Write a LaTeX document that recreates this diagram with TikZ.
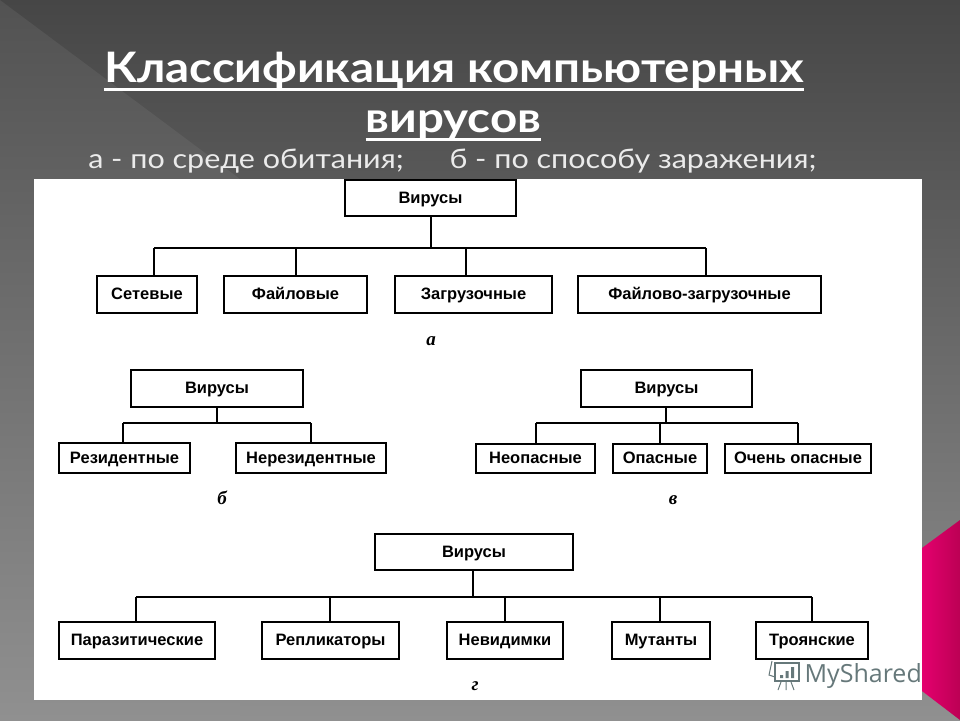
\documentclass[tikz,border=0pt]{standalone}
\usepackage{fontspec}
\setmainfont{Liberation Sans}
\newfontfamily\titlefont[FakeStretch=1.13]{Lato}
\newfontfamily\markfont{Open Sans}
\newfontfamily\letterfont{Liberation Serif}
\usetikzlibrary{shapes.geometric}
\definecolor{slidetop}{HTML}{464646}
\definecolor{slidebot}{HTML}{909090}
\definecolor{wedgetop}{HTML}{525252}
\definecolor{wedgebot}{HTML}{909090}
\definecolor{pinkl}{HTML}{E4006E}
\definecolor{pinkr}{HTML}{BC0054}
\definecolor{markgray}{HTML}{66787A}
\tikzset{
  treebox/.style={draw=black, line width=1.8pt, fill=white, text=black, inner sep=0pt, font=\fontsize{16.5}{18}\selectfont\bfseries, text height=13pt, text depth=2.5pt},
  treeline/.style={line width=1.8pt, color=black},
  letter/.style={inner sep=0pt, font=\fontsize{19}{21}\letterfont\bfseries\itshape},
  titleline/.style={anchor=base, inner sep=0pt, text=white, font=\fontsize{42}{46}\titlefont\bfseries},
  subline/.style={anchor=base, inner sep=0pt, text=white!92!black, font=\fontsize{27}{30}\titlefont},
  underrule/.style={line width=3pt, color=white},
}
\begin{document}
\begin{tikzpicture}
[every node/.style={inner sep=0pt}]
\useasboundingbox (0pt,0pt) rectangle (960pt,-720pt);
% slide background
\shade [top color=slidetop, bottom color=slidebot] (0pt,0pt) rectangle (960pt,-720pt);
\shade [top color=wedgetop, bottom color=wedgebot] (0pt,0pt) -- (240pt,-179pt) -- (240pt,-720pt) -- (0pt,-720pt) -- cycle;
\shade [left color=pinkl, right color=pinkr] (922pt,-548pt) -- (960pt,-520pt) -- (960pt,-720pt) -- (922pt,-691pt) -- cycle;
\fill [white] (34pt,-179pt) rectangle (922pt,-700pt);
% heading
\node (title1) [titleline] at (454pt,-82pt) {Классификация компьютерных};
\node (title2) [titleline] at (453.5pt,-132pt) {вирусов};
\draw [underrule] ([yshift=-7pt]title1.base west) -- ([yshift=-7pt]title1.base east);
\draw [underrule] ([yshift=-7pt]title2.base west) -- ([yshift=-7pt]title2.base east);
\node (sub1) [subline] at (246pt,-168pt) {а - по среде обитания;};
\node (sub2) [subline] at (633pt,-168pt) {б - по способу заражения;};
% tree a
\node (a0) [treebox, minimum width=171pt, minimum height=36pt] at (430.5pt,-198pt) {Вирусы};
\node (a1) [treebox, minimum width=100pt, minimum height=37pt] at (147pt,-294.5pt) {Сетевые};
\node (a2) [treebox, minimum width=143pt, minimum height=37pt] at (295.5pt,-294.5pt) {Файловые};
\node (a3) [treebox, minimum width=157pt, minimum height=37pt] at (473.5pt,-294.5pt) {Загрузочные};
\node (a4) [treebox, minimum width=243pt, minimum height=37pt] at (699.5pt,-294.5pt) {Файлово-загрузочные};
\node (alabel) [letter] at (431pt,-341pt) {а};
\coordinate (abus) at (431pt,-248pt);
\coordinate (abus1) at (154pt,-248pt);
\coordinate (abus2) at (296pt,-248pt);
\coordinate (abus3) at (466pt,-248pt);
\coordinate (abus4) at (706pt,-248pt);
\draw [treeline] (abus |- a0.south) to (abus);
\draw [treeline] (abus1) to (abus4);
\draw [treeline] (abus1) to (abus1 |- a1.north);
\draw [treeline] (abus2) to (abus2 |- a2.north);
\draw [treeline] (abus3) to (abus3 |- a3.north);
\draw [treeline] (abus4) to (abus4 |- a4.north);
% tree b
\node (b0) [treebox, minimum width=172pt, minimum height=37pt] at (217pt,-388.5pt) {Вирусы};
\node (b1) [treebox, minimum width=131pt, minimum height=30pt] at (124.5pt,-458pt) {Резидентные};
\node (b2) [treebox, minimum width=150pt, minimum height=30pt] at (311pt,-458pt) {Нерезидентные};
\node (blabel) [letter] at (222pt,-498pt) {б};
\coordinate (bbus) at (217pt,-423pt);
\coordinate (bbus1) at (123pt,-423pt);
\coordinate (bbus2) at (311pt,-423pt);
\draw [treeline] (bbus |- b0.south) to (bbus);
\draw [treeline] (bbus1) to (bbus2);
\draw [treeline] (bbus1) to (bbus1 |- b1.north);
\draw [treeline] (bbus2) to (bbus2 |- b2.north);
% tree c
\node (c0) [treebox, minimum width=171pt, minimum height=37pt] at (666.5pt,-388.5pt) {Вирусы};
\node (c1) [treebox, minimum width=119pt, minimum height=29pt] at (535.5pt,-458.5pt) {Неопасные};
\node (c2) [treebox, minimum width=94pt, minimum height=29pt] at (660pt,-458.5pt) {Опасные};
\node (c3) [treebox, minimum width=146pt, minimum height=29pt] at (798pt,-458.5pt) {Очень опасные};
\node (clabel) [letter] at (673pt,-500pt) {в};
\coordinate (cbus) at (666pt,-423pt);
\coordinate (cbus1) at (536pt,-423pt);
\coordinate (cbus2) at (660pt,-423pt);
\coordinate (cbus3) at (798pt,-423pt);
\draw [treeline] (cbus |- c0.south) to (cbus);
\draw [treeline] (cbus1) to (cbus3);
\draw [treeline] (cbus1) to (cbus1 |- c1.north);
\draw [treeline] (cbus2) to (cbus2 |- c2.north);
\draw [treeline] (cbus3) to (cbus3 |- c3.north);
% tree d
\node (d0) [treebox, minimum width=198pt, minimum height=36pt] at (474pt,-552pt) {Вирусы};
\node (d1) [treebox, minimum width=156pt, minimum height=37pt] at (137pt,-640.5pt) {Паразитические};
\node (d2) [treebox, minimum width=137pt, minimum height=37pt] at (330.5pt,-640.5pt) {Репликаторы};
\node (d3) [treebox, minimum width=116pt, minimum height=37pt] at (505pt,-640.5pt) {Невидимки};
\node (d4) [treebox, minimum width=98pt, minimum height=37pt] at (661pt,-640.5pt) {Мутанты};
\node (d5) [treebox, minimum width=112pt, minimum height=37pt] at (812pt,-640.5pt) {Троянские};
\node (dlabel) [letter] at (475pt,-686pt) {г};
\coordinate (dbus) at (473pt,-597pt);
\coordinate (dbus1) at (136pt,-597pt);
\coordinate (dbus2) at (330pt,-597pt);
\coordinate (dbus3) at (505pt,-597pt);
\coordinate (dbus4) at (660pt,-597pt);
\coordinate (dbus5) at (812pt,-597pt);
\draw [treeline] (dbus |- d0.south) to (dbus);
\draw [treeline] (dbus1) to (dbus5);
\draw [treeline] (dbus1) to (dbus1 |- d1.north);
\draw [treeline] (dbus2) to (dbus2 |- d2.north);
\draw [treeline] (dbus3) to (dbus3 |- d3.north);
\draw [treeline] (dbus4) to (dbus4 |- d4.north);
\draw [treeline] (dbus5) to (dbus5 |- d5.north);
% watermark
\node (mark) [anchor=base east, text=markgray, font=\fontsize{25}{28}\markfont] at (922pt,-682pt) {MyShared};
\draw [markgray, line width=1.2pt] (775pt,-663pt) rectangle (799pt,-681pt);
\draw [markgray, line width=1pt] (772pt,-661pt) -- (769pt,-675pt) -- (775pt,-677pt);
\fill [markgray] (780pt,-675pt) rectangle (783pt,-678pt) (785.5pt,-671pt) rectangle (788.5pt,-678pt) (791pt,-667pt) rectangle (794pt,-678pt);
\draw [markgray, line width=1pt] (781pt,-682pt) -- (778pt,-690pt) (786pt,-682pt) -- (786pt,-690pt) (791pt,-682pt) -- (794pt,-690pt);
\end{tikzpicture}
\end{document}
